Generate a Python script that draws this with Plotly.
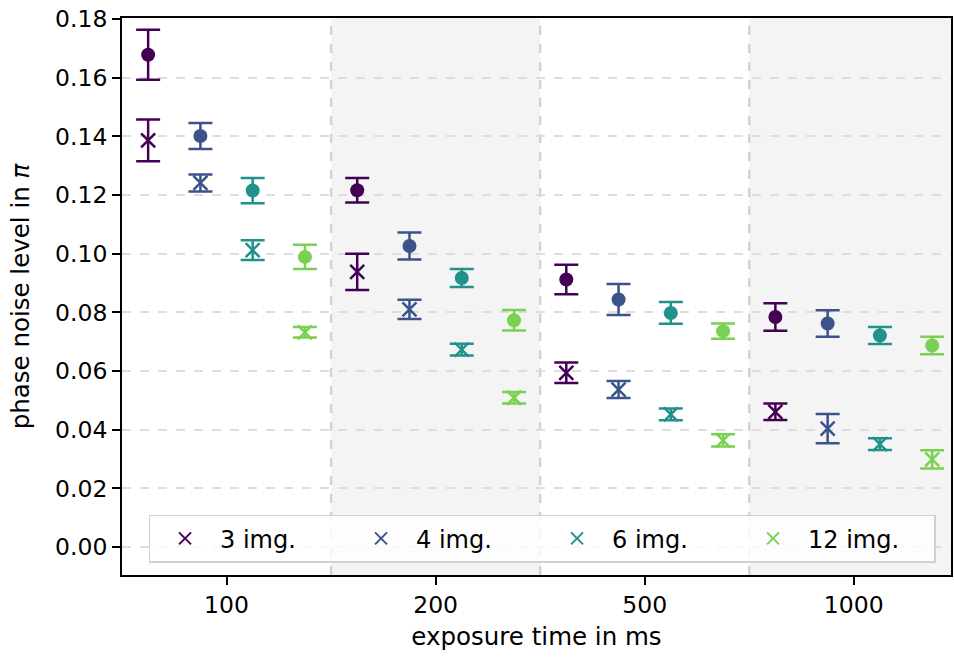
import plotly.graph_objects as go

exposure_labels = ["100", "200", "500", "1000"]
series_names = ["3 img.", "4 img.", "6 img.", "12 img."]
colors = ["#440154", "#3b528b", "#21918c", "#7ad151"]

# circle markers (upper set)
circ_3 = [0.1678, 0.1216, 0.0912, 0.0784]
circ_3_err = [0.0085, 0.0042, 0.0050, 0.0047]
circ_4 = [0.1401, 0.1026, 0.0844, 0.0762]
circ_4_err = [0.0044, 0.0046, 0.0053, 0.0045]
circ_6 = [0.1215, 0.0917, 0.0798, 0.0721]
circ_6_err = [0.0043, 0.0031, 0.0037, 0.0029]
circ_12 = [0.0989, 0.0773, 0.0736, 0.0687]
circ_12_err = [0.0041, 0.0035, 0.0026, 0.0030]

# x markers (lower set, in legend)
x_3 = [0.1386, 0.0938, 0.0594, 0.0461]
x_3_err = [0.0071, 0.0062, 0.0035, 0.0028]
x_4 = [0.1241, 0.0810, 0.0537, 0.0404]
x_4_err = [0.0029, 0.0033, 0.0029, 0.0050]
x_6 = [0.1012, 0.0673, 0.0452, 0.0351]
x_6_err = [0.0034, 0.0020, 0.0020, 0.0020]
x_12 = [0.0732, 0.0509, 0.0364, 0.0299]
x_12_err = [0.0018, 0.0020, 0.0021, 0.0031]

circ_vals = [circ_3, circ_4, circ_6, circ_12]
circ_errs = [circ_3_err, circ_4_err, circ_6_err, circ_12_err]
x_vals = [x_3, x_4, x_6, x_12]
x_errs = [x_3_err, x_4_err, x_6_err, x_12_err]

FONT = "DejaVu Sans"
FS = 23.5
TFS = 24.5

fig = go.Figure()
n = len(series_names)
group_width = 0.25
for j in range(n):
    pos = [i + (j - (n - 1) / 2) * group_width for i in range(len(exposure_labels))]
    err_style = dict(type="data", visible=True, thickness=2.5, width=12, color=colors[j])
    fig.add_trace(go.Scatter(
        x=pos, y=circ_vals[j], mode="markers", showlegend=False,
        marker=dict(symbol="circle", size=14, color=colors[j]),
        error_y=dict(array=circ_errs[j], **err_style),
    ))
    fig.add_trace(go.Scatter(
        x=pos, y=x_vals[j], mode="markers", name=series_names[j],
        marker=dict(symbol="x-thin", size=14, color=colors[j],
                    line=dict(width=2.5, color=colors[j])),
        error_y=dict(array=x_errs[j], **err_style),
    ))

xmin, xmax = -0.5, 3.465
# shaded alternating groups
for i in range(len(exposure_labels)):
    if i % 2 == 1:
        fig.add_shape(type="rect", xref="x", yref="paper",
                      x0=i - 0.5, x1=i + 0.5, y0=0, y1=1,
                      fillcolor="#f4f4f4", line=dict(width=0), layer="below")
# dashed dividers between groups
for i in range(len(exposure_labels) - 1):
    fig.add_shape(type="line", xref="x", yref="paper",
                  x0=i + 0.5, x1=i + 0.5, y0=0, y1=1,
                  line=dict(color="#d3d3d3", width=2.5, dash="dash"), layer="between")

fig.update_layout(
    width=954, height=657,
    margin=dict(l=122, r=1, t=18, b=82),
    paper_bgcolor="white", plot_bgcolor="white",
    font=dict(family=FONT, size=FS, color="black"),
    showlegend=True,
    legend=dict(
        orientation="h", x=0.032, y=0.022, xanchor="left", yanchor="bottom",
        bgcolor="rgba(255,255,255,0.8)", bordercolor="#d0d0d0", borderwidth=1.5,
        font=dict(family=FONT, size=24), entrywidth=121, entrywidthmode="pixels",
        itemsizing="constant", itemwidth=60,
    ),
)
fig.update_xaxes(
    range=[xmin, xmax], tickmode="array", tickvals=list(range(len(exposure_labels))),
    ticktext=exposure_labels, ticks="outside", ticklen=8, tickwidth=1.8, tickcolor="black",
    showgrid=False, zeroline=False, showline=True, linecolor="black", linewidth=1.8,
    mirror=True, title=dict(text="exposure time in ms", standoff=10, font=dict(size=TFS)),
)
fig.update_yaxes(
    range=[-0.0095, 0.1803], tickmode="array",
    tickvals=[0.0, 0.02, 0.04, 0.06, 0.08, 0.10, 0.12, 0.14, 0.16, 0.18],
    tickformat=".2f", ticks="outside", ticklen=8, tickwidth=1.8, tickcolor="black",
    showgrid=True, gridcolor="#dddddd", gridwidth=1.5, griddash="dash",
    zeroline=False, showline=True, linecolor="black", linewidth=1.8, mirror=True,
    title=dict(text="phase noise level in <i>π</i>", standoff=18, font=dict(size=TFS)),
)

fig.write_html("out.html")
